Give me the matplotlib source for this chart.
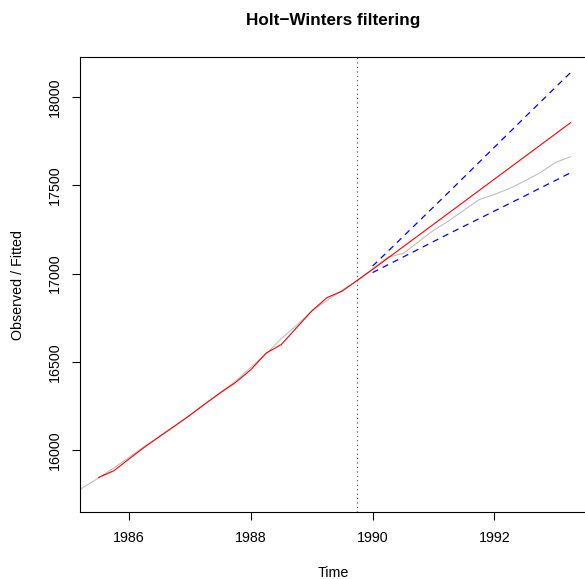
import numpy as np
import matplotlib
matplotlib.use("Agg")
import matplotlib.pyplot as plt

# quarterly series
OBS_START = 1985.0
FIT_START = 1985.5
PRED_START = 1990.0
FREQ = 4

observed = [15735, 15788, 15841, 15898, 15958, 16020, 16077, 16136, 16197,
            16262, 16327, 16390, 16469, 16545, 16631, 16706, 16788, 16848,
            16906, 16962,
            17028, 17094, 17114, 17180, 17246, 17299, 17360, 17420, 17449,
            17483, 17526, 17572, 17630, 17663]
fitted = [15844, 15882, 15949, 16015, 16076, 16136, 16197, 16262, 16324,
          16383, 16455, 16549, 16598, 16693, 16788, 16864, 16901, 16962]
predicted = [17024, 17088, 17152, 17216, 17280, 17344, 17408, 17472, 17536,
             17600, 17664, 17728, 17792, 17856]
upper = [17043, 17126, 17210, 17294, 17378, 17462, 17547, 17632, 17717,
         17802, 17887, 17971, 18056, 18140]
lower = [17006, 17050, 17094, 17138, 17182, 17226, 17269, 17312, 17355,
         17398, 17441, 17485, 17528, 17572]

FIT_END = 1989.75
X_TICKS = [1986, 1988, 1990, 1992]
Y_TICKS = [16000, 16500, 17000, 17500, 18000]


def ts_time(start, n):
    return start + np.arange(n) / FREQ


plt.rcParams["font.family"] = ["Liberation Sans", "DejaVu Sans"]

W, H = 585, 579
fig = plt.figure(figsize=(W / 100, H / 100), dpi=100)
left, right, top, bottom = 80, 585, 57.3, 511.5
ax = fig.add_axes([left / W, (H - bottom) / H, (right - left) / W,
                   (bottom - top) / H])

t_obs = ts_time(OBS_START, len(observed))
t_fit = ts_time(FIT_START, len(fitted))
t_pred = ts_time(PRED_START, len(predicted))

ax.plot(t_obs, observed, color="#BEBEBE", lw=0.8)
ax.plot(t_fit, fitted, color="red", lw=0.8)
ax.plot(np.r_[t_fit[-1], t_pred], np.r_[fitted[-1], predicted],
        color="red", lw=0.8)
for band in (upper, lower):
    ax.plot(t_pred, band, color="blue", lw=0.9, dashes=(5, 4))
ax.axvline(FIT_END, color="#444444", lw=0.8, dashes=(1, 3))

ax.set_xlim(1985.195, 1993.488)
ax.set_ylim(15651, 18227)
ax.set_xticks(X_TICKS)
ax.set_yticks(Y_TICKS)
ax.tick_params(axis="x", length=6, width=0.8, pad=8, labelsize=10.3)
ax.tick_params(axis="y", length=6, width=0.8, pad=7, labelsize=10.3)
for lab in ax.get_yticklabels():
    lab.set_rotation(90)
    lab.set_va("center")
for s in ("left", "top", "bottom"):
    ax.spines[s].set_linewidth(0.8)
ax.spines["right"].set_visible(False)

fig.text(333 / W, 1 - 20 / H, "Holt\u2212Winters filtering", ha="center",
         va="center", fontsize=12.3, fontweight="bold")
fig.text(333 / W, 1 - 573 / H, "Time", ha="center", va="center",
         fontsize=10.3)
fig.text(18 / W, 1 - 285 / H, "Observed / Fitted", ha="center",
         va="center", rotation=90, fontsize=10.3)

fig.savefig("out.png", dpi=100)
